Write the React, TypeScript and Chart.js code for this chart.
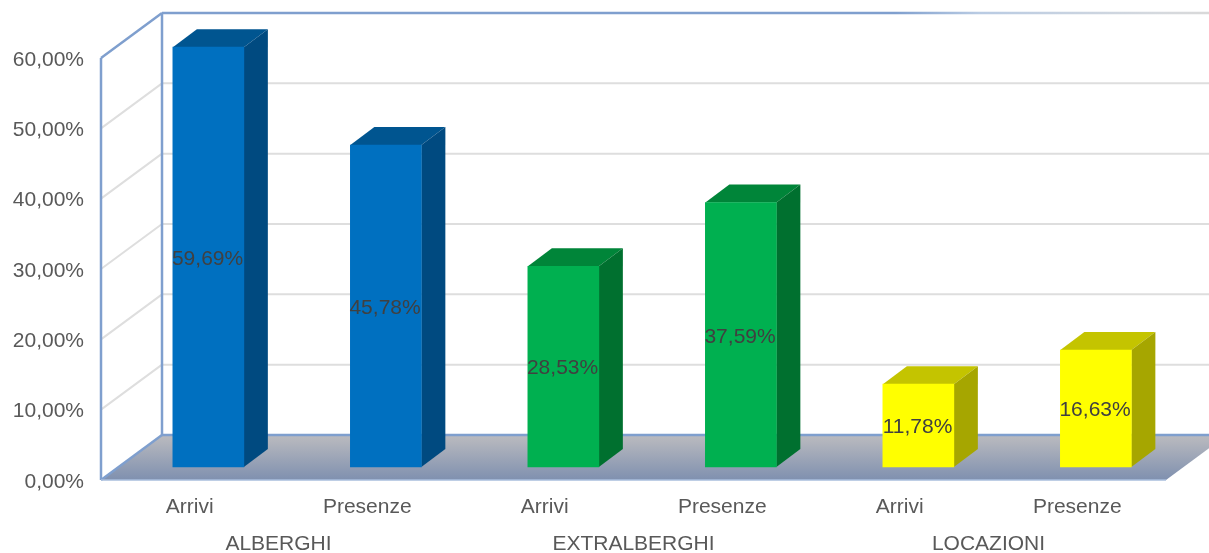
import React, { useEffect, useRef } from "react";
import { Chart, registerables } from "chart.js";

Chart.register(...registerables);

const categories = ["Arrivi", "Presenze", "Arrivi", "Presenze", "Arrivi", "Presenze"];
const groups = ["ALBERGHI", "EXTRALBERGHI", "LOCAZIONI"];
const values = [59.69, 45.78, 28.53, 37.59, 11.78, 16.63];
const frontColors = ["#0070C0", "#0070C0", "#00B050", "#00B050", "#FFFF00", "#FFFF00"];
const topColors = ["#005590", "#005590", "#008539", "#008539", "#C4C400", "#C4C400"];
const sideColors = ["#004A80", "#004A80", "#00702F", "#00702F", "#A6A600", "#A6A600"];

const FONT = '"Liberation Sans", Arial, sans-serif';
const fmt = (v: number) => v.toFixed(2).replace(".", ",") + "%";

const FRONT_DY = -2;
const WALL_DX = 61;
const WALL_DY = -45;
const BAR_DX = 18.6;
const BAR_DY = -15;
const LABEL_DX = 17.8;
const BAR_DEPTH_X = 24;
const BAR_DEPTH_Y = -18;
const BLUE = "#7F9FCE";

const poly = (ctx: CanvasRenderingContext2D, pts: number[][], fill: string | CanvasGradient) => {
  ctx.beginPath();
  pts.forEach((p, i) => (i ? ctx.lineTo(p[0], p[1]) : ctx.moveTo(p[0], p[1])));
  ctx.closePath();
  ctx.fillStyle = fill;
  ctx.fill();
};
const line = (
  ctx: CanvasRenderingContext2D,
  x1: number,
  y1: number,
  x2: number,
  y2: number,
  c: string | CanvasGradient,
  w: number
) => {
  ctx.beginPath();
  ctx.moveTo(x1, y1);
  ctx.lineTo(x2, y2);
  ctx.strokeStyle = c;
  ctx.lineWidth = w;
  ctx.stroke();
};

const box3d = {
  id: "box3d",
  beforeDatasetsDraw(chart: any) {
    const { ctx, chartArea: a, scales } = chart;
    const y = scales.y;
    ctx.save();
    const y0 = y.getPixelForValue(0) + FRONT_DY;
    const yTop = y.getPixelForValue(60) + FRONT_DY;
    const backL = a.left + WALL_DX;
    const backR = a.right + WALL_DX;
    // grid lines on the side and back wall
    for (const t of y.ticks) {
      if (t.value === 0 || t.value >= 60) continue;
      const py = y.getPixelForValue(t.value) + FRONT_DY;
      line(ctx, a.left, py, backL, py + WALL_DY, "#DEDEDE", 2);
      line(ctx, backL, py + WALL_DY, backR, py + WALL_DY, "#DEDEDE", 2);
    }
    // floor
    const g = ctx.createLinearGradient(0, y0 + WALL_DY, 0, y0);
    g.addColorStop(0, "#BBBBBF");
    g.addColorStop(1, "#7F90AF");
    poly(ctx, [[a.left, y0], [a.right, y0], [backR, y0 + WALL_DY], [backL, y0 + WALL_DY]], g);
    // frame
    line(ctx, a.left, yTop, a.left, y0, BLUE, 2.5);
    line(ctx, backL, yTop + WALL_DY, backL, y0 + WALL_DY, BLUE, 2.5);
    line(ctx, a.left, yTop, backL, yTop + WALL_DY, BLUE, 2.5);
    line(ctx, a.left, y0, backL, y0 + WALL_DY, BLUE, 2.5);
    const topLine = ctx.createLinearGradient(backL, 0, 1209, 0);
    topLine.addColorStop(0, BLUE);
    topLine.addColorStop(0.7, BLUE);
    topLine.addColorStop(0.78, "#B9CBE3");
    topLine.addColorStop(0.95, "#D5D9DE");
    topLine.addColorStop(1, "#D9D9D9");
    line(ctx, backL, yTop + WALL_DY, backR, yTop + WALL_DY, topLine, 2.5);
    line(ctx, backL, y0 + WALL_DY, backR, y0 + WALL_DY, BLUE, 2.5);
    line(ctx, a.left, y0, a.right, y0, "#A9BEDD", 1.5);
    // bar depth faces
    const meta = chart.getDatasetMeta(0);
    meta.data.forEach((b: any, i: number) => {
      const l = b.x - b.width / 2 + BAR_DX;
      const r = b.x + b.width / 2 + BAR_DX;
      const t = b.y + BAR_DY;
      const bt = b.base + BAR_DY;
      poly(ctx, [[l, t], [r, t], [r + BAR_DEPTH_X, t + BAR_DEPTH_Y], [l + BAR_DEPTH_X, t + BAR_DEPTH_Y]], topColors[i]);
      poly(ctx, [[r, t], [r + BAR_DEPTH_X, t + BAR_DEPTH_Y], [r + BAR_DEPTH_X, bt + BAR_DEPTH_Y], [r, bt]], sideColors[i]);
    });
    ctx.restore();
  },
  beforeDatasetDraw(chart: any) {
    chart.ctx.save();
    chart.ctx.translate(BAR_DX, BAR_DY);
  },
  afterDatasetDraw(chart: any) {
    chart.ctx.restore();
  },
  afterDatasetsDraw(chart: any) {
    const { ctx } = chart;
    const meta = chart.getDatasetMeta(0);
    ctx.save();
    ctx.font = `21px ${FONT}`;
    ctx.fillStyle = "#404040";
    ctx.textAlign = "center";
    ctx.textBaseline = "middle";
    meta.data.forEach((b: any, i: number) => {
      ctx.fillText(fmt(values[i]), b.x + LABEL_DX, (b.y + b.base) / 2 + BAR_DY + 2);
    });
    ctx.restore();
  },
};

export default function App() {
  const ref = useRef<HTMLCanvasElement>(null);
  useEffect(() => {
    const chart = new Chart(ref.current!, {
      type: "bar",
      plugins: [box3d],
      data: {
        labels: categories,
        datasets: [
          {
            data: values,
            backgroundColor: frontColors,
            barThickness: 71,
            clip: false,
          } as any,
        ],
      },
      options: {
        responsive: false,
        animation: false,
        events: [],
        layout: { padding: { top: 60, right: 43, left: 0, bottom: 0 } },
        plugins: { legend: { display: false }, title: { display: false }, tooltip: { enabled: false } },
        scales: {
          x: {
            type: "category",
            position: "bottom",
            grid: { display: false },
            border: { display: false },
            ticks: { color: "#595959", font: { size: 21, family: FONT }, padding: 5, maxRotation: 0, autoSkip: false },
            afterFit: (s: any) => { s.height = 36; },
          },
          x2: {
            type: "category",
            position: "bottom",
            labels: groups,
            grid: { display: false },
            border: { display: false },
            ticks: { color: "#595959", font: { size: 21, family: FONT }, padding: 6, maxRotation: 0, autoSkip: false },
            afterFit: (s: any) => { s.height = 35; },
          },
          y: {
            min: 0,
            max: 60,
            grid: { display: false },
            border: { display: false },
            ticks: {
              stepSize: 10,
              color: "#595959",
              padding: 9,
              font: { size: 21, family: FONT },
              callback: (v: any) => fmt(Number(v)),
            },
            afterFit: (s: any) => { s.width = 101; },
          },
        },
      } as any,
    });
    return () => chart.destroy();
  }, []);
  return (
    <div style={{ position: "fixed", left: 0, top: 0, width: 1209, height: 553, overflow: "hidden", background: "#fff" }}>
      <canvas ref={ref} width={1209} height={553} style={{ display: "block", filter: "blur(0.4px)" }} />
    </div>
  );
}
